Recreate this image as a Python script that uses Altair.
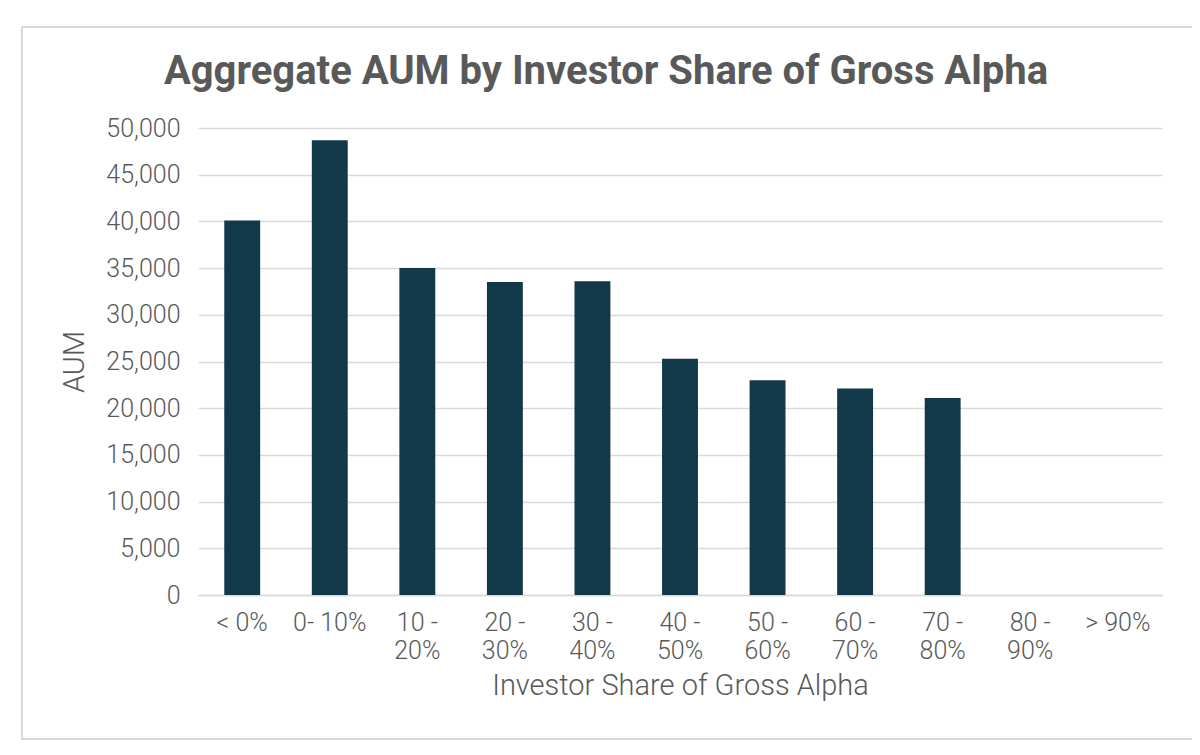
import altair as alt
import pandas as pd

categories = ["< 0%", "0- 10%", "10 - 20%", "20 - 30%", "30 - 40%", "40 - 50%",
              "50 - 60%", "60 - 70%", "70 - 80%", "80 - 90%", "> 90%"]
aum = [40100, 48700, 35000, 33500, 33600, 25300, 23000, 22100, 21100, 0, 0]
title_text = "Aggregate  AUM by Investor Share of Gross Alpha"

df = pd.DataFrame({"cat": categories, "aum": aum})

FONT = "Roboto"
GRAY = "#595959"

label_expr = ("length(split(datum.label, ' - ')) > 1 ? "
              "[split(datum.label, ' - ')[0] + ' -', split(datum.label, ' - ')[1]] : datum.label")

bars = alt.Chart(df).mark_bar(color="#12394a").encode(
    x=alt.X("cat:N", sort=categories,
            scale=alt.Scale(paddingInner=0.59, paddingOuter=0.3),
            axis=alt.Axis(title="Investor Share of Gross Alpha", labelAngle=0,
                          labelExpr=label_expr, labelLineHeight=28,
                          labelFontSize=25, titleFontSize=29, labelPadding=15,
                          titlePadding=8, ticks=False, domain=True,
                          domainColor="#d9d9d9", domainWidth=1.5,
                          labelColor=GRAY, titleColor=GRAY,
                          labelFontWeight=300, titleFontWeight=300,
                          labelFont=FONT, titleFont=FONT)),
    y=alt.Y("aum:Q", scale=alt.Scale(domain=[0, 50000]),
            axis=alt.Axis(title="AUM", values=list(range(0, 50001, 5000)), format=",.0f",
                          labelFontSize=25, titleFontSize=29, labelPadding=18,
                          titlePadding=16, ticks=False, domain=False,
                          grid=True, gridColor="#d9d9d9", gridWidth=1.5,
                          labelColor=GRAY, titleColor=GRAY,
                          labelFontWeight=300, titleFontWeight=300,
                          labelFont=FONT, titleFont=FONT)),
)

border = alt.Chart(pd.DataFrame({"a": [0]})).mark_rect(
    fill=None, stroke="#d9d9d9", strokeWidth=2
).encode(
    x=alt.value(-176), x2=alt.value(997), y=alt.value(-101), y2=alt.value(611)
)

title = alt.Chart(pd.DataFrame({"t": [title_text]})).mark_text(
    font=FONT, fontSize=40, fontWeight="bold", color=GRAY,
    align="center", baseline="middle"
).encode(
    text="t:N", x=alt.value(408), y=alt.value(-56)
)

chart = alt.layer(border, bars, title).properties(
    width=964, height=467,
    autosize=alt.AutoSizeParams(type="none"),
    padding={"left": 190, "top": 120, "right": 30, "bottom": 152},
).configure(background="white").configure_view(strokeWidth=0)

chart.save("out.html", embed_options={"renderer": "svg", "actions": False})
